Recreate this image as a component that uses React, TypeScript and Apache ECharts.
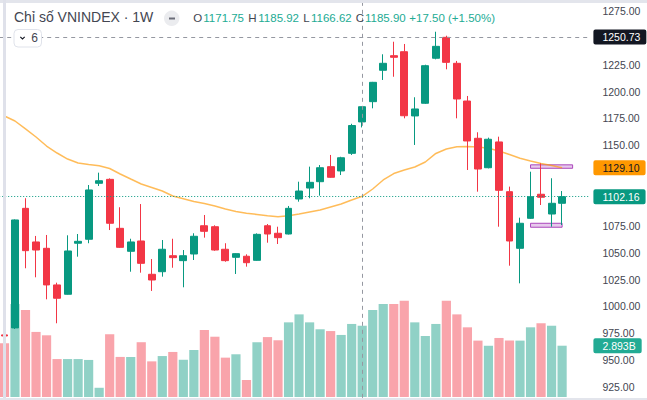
import React, { useEffect, useRef } from "react";
import * as echarts from "echarts";

const categories = [
  "2022-11-21", "2022-11-28", "2022-12-05", "2022-12-12", "2022-12-19", "2022-12-26",
  "2023-01-02", "2023-01-09", "2023-01-16", "2023-01-30", "2023-02-06", "2023-02-13",
  "2023-02-20", "2023-02-27", "2023-03-06", "2023-03-13", "2023-03-20", "2023-03-27",
  "2023-04-03", "2023-04-10", "2023-04-17", "2023-04-24", "2023-05-01", "2023-05-08",
  "2023-05-15", "2023-05-22", "2023-05-29", "2023-06-05", "2023-06-12", "2023-06-19",
  "2023-06-26", "2023-07-03", "2023-07-10", "2023-07-17", "2023-07-24", "2023-07-31",
  "2023-08-07", "2023-08-14", "2023-08-21", "2023-08-28", "2023-09-04", "2023-09-11",
  "2023-09-18", "2023-09-25", "2023-10-02", "2023-10-09", "2023-10-16", "2023-10-23",
  "2023-10-30", "2023-11-06", "2023-11-13", "2023-11-20", "2023-11-27", "2023-12-04",
  "2023-12-11", "2023-12-18",
];

const opens = [
  973.5, 980.0, 1091.3, 1060.0, 1054.1, 1020.0, 1011.3, 1058.8, 1062.5, 1114.6,
  1118.3, 1072.7, 1051.3, 1060.9, 1029.9, 1032.3, 1047.2, 1042.6, 1048.8, 1075.1,
  1074.2, 1053.2, 1045.7, 1046.7, 1042.9, 1075.1, 1068.1, 1067.4, 1100.0, 1110.2,
  1116.1, 1130.1, 1126.1, 1142.5, 1171.75, 1190.6, 1219.8, 1233.4, 1237.1, 1177.3,
  1189.1, 1231.0, 1250.5, 1226.3, 1191.2, 1156.5, 1129.1, 1153.1, 1106.8, 1054.1,
  1082.0, 1104.4, 1086.0, 1096.0,
];
const highs = [
  976.0, 1081.0, 1100.7, 1065.6, 1066.5, 1022.1, 1066.2, 1067.4, 1113.0, 1124.5,
  1119.2, 1092.3, 1063.0, 1095.3, 1044.1, 1061.8, 1063.0, 1052.5, 1068.1, 1085.1,
  1075.5, 1058.8, 1049.5, 1048.5, 1068.0, 1076.7, 1074.2, 1093.5, 1116.1, 1130.1,
  1131.6, 1141.0, 1139.3, 1170.0, 1185.92, 1209.0, 1234.7, 1246.4, 1244.3, 1194.7,
  1225.0, 1255.7, 1252.0, 1228.5, 1195.9, 1162.1, 1157.1, 1158.0, 1111.5, 1082.6,
  1125.4, 1133.2, 1119.3, 1107.4,
];
const lows = [
  970.0, 979.0, 1035.5, 1027.1, 1006.6, 984.3, 1011.0, 1046.3, 1058.8, 1112.1,
  1071.1, 1054.5, 1032.3, 1031.4, 1014.4, 1027.7, 1036.0, 1017.8, 1043.2, 1064.0,
  1051.8, 1041.6, 1030.2, 1037.0, 1042.5, 1059.3, 1058.1, 1067.0, 1097.5, 1100.7,
  1103.1, 1119.8, 1122.3, 1141.0, 1166.62, 1184.4, 1210.8, 1213.8, 1175.1, 1150.3,
  1188.5, 1230.0, 1220.7, 1175.1, 1127.0, 1106.8, 1128.5, 1074.2, 1037.9, 1021.5,
  1081.5, 1094.4, 1074.2, 1075.8,
];
const closes = [
  972.5, 1080.5, 1051.9, 1052.5, 1020.0, 1007.6, 1051.6, 1060.6, 1108.4, 1117.0,
  1077.4, 1055.0, 1060.0, 1040.1, 1024.6, 1053.2, 1045.4, 1047.2, 1065.3, 1069.9,
  1052.5, 1042.6, 1049.1, 1040.7, 1067.1, 1067.4, 1064.0, 1091.3, 1107.4, 1115.5,
  1129.1, 1120.2, 1138.4, 1168.4, 1185.9, 1208.6, 1226.3, 1231.9, 1177.5, 1183.8,
  1224.1, 1242.1, 1227.2, 1193.1, 1154.0, 1127.9, 1155.6, 1108.1, 1060.9, 1077.4,
  1102.1, 1101.6, 1096.0, 1102.16,
];

// volume in billions
const volumes = [
  3.03, 5.25, 4.91, 3.67, 3.48, 2.14, 2.14, 2.14, 2.09, 0.52,
  3.54, 2.26, 2.26, 3.09, 2.01, 2.31, 2.54, 2.1, 2.65, 3.78,
  3.4, 2.22, 2.41, 0.96, 3.09, 3.38, 3.2, 4.21, 4.66, 4.21,
  3.82, 3.72, 3.5, 4.12, 4.02, 4.91, 5.25, 5.25, 5.43, 4.21,
  3.44, 4.12, 5.43, 4.66, 3.93, 3.18, 2.89, 3.33, 3.18, 3.18,
  3.93, 4.16, 4.02, 2.893,
];

const maValues = [
  1177.3, 1172.6, 1165.2, 1157.7, 1149.3, 1142.8, 1137.2, 1133.5, 1132.1, 1130.9,
  1128.4, 1123.3, 1118.6, 1114.0, 1110.7, 1107.4, 1102.8, 1100.2, 1097.6, 1095.8,
  1093.5, 1090.7, 1088.4, 1086.7, 1085.6, 1084.4, 1083.5, 1084.5, 1086.0, 1087.9,
  1089.8, 1092.6, 1095.3, 1099.1, 1102.5, 1109.3, 1117.7, 1123.7, 1127.0, 1129.8,
  1134.4, 1142.4, 1146.5, 1148.7, 1148.9, 1148.4, 1147.2, 1144.7, 1141.4, 1137.9,
  1135.4, 1133.1, 1131.2, 1129.1,
];

const crosshairIndex = 34;
const crosshairPrice = 1250.73;
const volumeLabel = "2.893B";
const hiddenTicks = [1250, 1125, 1100];

// purple boxes: [startIndex, endIndex, priceTop, priceBottom]
const boxes = [
  [50, 54, 1131.8, 1128.6],
  [50, 53, 1077.4, 1073.7],
];

const UP = "#089981";
const DOWN = "#f23645";
const FONT = '"Liberation Sans", Arial, Helvetica, sans-serif';
const TEXT = "#434651";
const NOLINE = { color: "rgba(0,0,0,0)", width: 0 };

function buildOption() {
  const candleData = opens.map((o, i) => [o, closes[i], lows[i], highs[i]]);
  const volData = volumes.map((v, i) => ({
    value: v,
    itemStyle: {
      color: closes[i] >= opens[i] ? "rgba(8,153,129,0.45)" : "rgba(242,54,69,0.45)",
    },
  }));
  const ci = crosshairIndex;
  const chg = closes[ci] - closes[ci - 1];
  const pct = (chg / closes[ci - 1]) * 100;
  const sign = chg >= 0 ? "+" : "";

  const valueBox = (bg: string, fg: string, text: string) => ({
    show: true,
    position: "end",
    distance: 5,
    formatter: text,
    backgroundColor: bg,
    color: fg,
    fontFamily: FONT,
    fontSize: 10.5,
    lineHeight: 12,
    padding: [1.5, 6, 1.5, 9],
    borderRadius: 2,
  });

  const headerText = (x: number, text: string, fill: string) => ({
    type: "text",
    x,
    y: 18,
    z: 100,
    style: { text, fill, font: `11.5px ${FONT}`, verticalAlign: "middle", align: "left" },
  });

  return {
    animation: false,
    backgroundColor: "#ffffff",
    grid: [
      { left: -0.8, width: 589.2, top: -15.86, height: 429.7, outerBoundsMode: "none", containLabel: false },
      { left: -0.8, width: 589.2, top: 219.7, height: 177.3, outerBoundsMode: "none", containLabel: false },
    ],
    xAxis: [
      { type: "category", data: categories, gridIndex: 0, show: false, boundaryGap: true },
      { type: "category", data: categories, gridIndex: 1, show: false, boundaryGap: true },
    ],
    yAxis: [
      {
        type: "value",
        gridIndex: 0,
        position: "right",
        min: 900,
        max: 1300,
        interval: 25,
        axisLine: { show: false },
        axisTick: { show: false },
        splitLine: { show: false },
        axisLabel: {
          margin: 14,
          color: TEXT,
          fontSize: 10.5,
          fontFamily: FONT,
          formatter: (v: number) =>
            v < 925 || v > 1275 || hiddenTicks.includes(v) ? "" : v.toFixed(2),
        },
      },
      { type: "value", gridIndex: 1, min: 0, max: 10, show: false },
    ],
    series: [
      {
        type: "bar",
        xAxisIndex: 1,
        yAxisIndex: 1,
        data: volData,
        barWidth: 9.2,
        z: 1,
        markLine: {
          silent: true,
          symbol: ["none", "none"],
          data: [
            {
              yAxis: volumes[volumes.length - 1],
              lineStyle: NOLINE,
              label: valueBox("#22ab94", "#ffffff", volumeLabel),
            },
          ],
        },
      },
      {
        type: "line",
        xAxisIndex: 0,
        yAxisIndex: 0,
        data: maValues,
        symbol: "none",
        z: 2,
        lineStyle: { color: "rgba(255,152,0,0.65)", width: 1.5 },
        markLine: {
          silent: true,
          symbol: ["none", "none"],
          data: [
            {
              yAxis: maValues[maValues.length - 1],
              lineStyle: NOLINE,
              label: valueBox("#ff9800", "#131722", maValues[maValues.length - 1].toFixed(2)),
            },
          ],
        },
      },
      {
        type: "candlestick",
        xAxisIndex: 0,
        yAxisIndex: 0,
        data: candleData,
        barWidth: 7.4,
        z: 3,
        itemStyle: {
          color: UP,
          color0: DOWN,
          borderColor: UP,
          borderColor0: DOWN,
          borderWidth: 1,
        },
        markLine: {
          silent: true,
          symbol: ["none", "none"],
          data: [
            {
              xAxis: crosshairIndex,
              lineStyle: { color: "#9598a1", type: [4, 4], width: 1 },
              label: { show: false },
            },
            {
              yAxis: crosshairPrice,
              lineStyle: { color: "#9598a1", type: [4, 4], width: 1 },
              label: valueBox("#131722", "#ffffff", crosshairPrice.toFixed(2)),
            },
            {
              yAxis: closes[closes.length - 1],
              lineStyle: { color: UP, type: [1, 2], width: 1 },
              label: valueBox(UP, "#ffffff", closes[closes.length - 1].toFixed(2)),
            },
          ],
        },
        markArea: {
          silent: true,
          itemStyle: {
            color: "rgba(186,104,200,0.35)",
            borderColor: "#ab47bc",
            borderWidth: 1,
          },
          data: boxes.map((b) => [{ coord: [b[0], b[2]] }, { coord: [b[1], b[3]] }]),
        },
      },
    ],
    graphic: [
      { type: "rect", z: 100, shape: { x: 0, y: 0, width: 647, height: 3 }, style: { fill: "#e3e5ec" } },
      { type: "rect", z: 100, shape: { x: 3, y: 0, width: 3, height: 400 }, style: { fill: "#dfe1ea" } },
      { type: "rect", z: 100, shape: { x: 0, y: 398, width: 647, height: 2 }, style: { fill: "#e3e5ec" } },
      {
        type: "text",
        x: 14,
        y: 17,
        z: 100,
        style: {
          text: "Chỉ số VNINDEX · 1W",
          fill: TEXT,
          font: `14px ${FONT}`,
          verticalAlign: "middle",
          align: "left",
        },
      },
      { type: "circle", z: 100, shape: { cx: 171.7, cy: 18.3, r: 7.7 }, style: { fill: "#ebecef" } },
      { type: "rect", z: 101, shape: { x: 169, y: 17.5, width: 6, height: 2 }, style: { fill: "#6a6d78" } },
      headerText(193.3, "O", TEXT),
      headerText(203.3, opens[ci].toFixed(2), "#22ab94"),
      headerText(248.3, "H", TEXT),
      headerText(258.3, highs[ci].toFixed(2), "#22ab94"),
      headerText(303.3, "L", TEXT),
      headerText(311, lows[ci].toFixed(2), "#22ab94"),
      headerText(355.7, "C", TEXT),
      headerText(365, closes[ci].toFixed(2), "#22ab94"),
      headerText(409.3, `${sign}${chg.toFixed(2)} (${sign}${pct.toFixed(2)}%)`, "#22ab94"),
      {
        type: "rect",
        z: 100,
        shape: { x: 14, y: 29.5, width: 27.5, height: 17.5, r: 4 },
        style: { fill: "#ffffff", stroke: "#e0e3eb", lineWidth: 1 },
      },
      {
        type: "polyline",
        z: 101,
        shape: { points: [[20.3, 36.8], [22.5, 39], [24.7, 36.8]] },
        style: { stroke: "#131722", lineWidth: 1.1, fill: null },
      },
      {
        type: "text",
        x: 31.2,
        y: 38.3,
        z: 101,
        style: { text: "6", fill: TEXT, font: `12px ${FONT}`, verticalAlign: "middle", align: "left" },
      },
    ],
  };
}

export default function App() {
  const ref = useRef<HTMLDivElement>(null);
  useEffect(() => {
    if (!ref.current) return;
    const chart = echarts.init(ref.current, undefined, { renderer: "svg" });
    chart.setOption(buildOption() as any);
    return () => chart.dispose();
  }, []);
  return (
    <div
      ref={ref}
      style={{ position: "fixed", left: 0, top: 0, width: 647, height: 400, background: "#fff" }}
    />
  );
}
